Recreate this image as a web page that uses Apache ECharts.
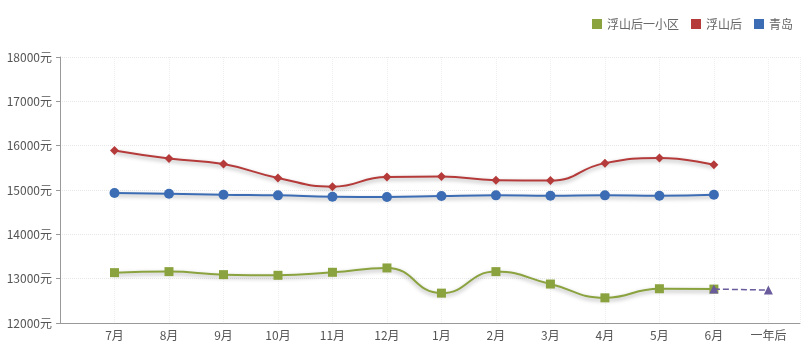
<!DOCTYPE html>
<html><head><meta charset="utf-8">
<script src="https://cdn.jsdelivr.net/npm/echarts@6/dist/echarts.min.js"></script>
<style>html,body{margin:0;padding:0;background:#fff}#c{width:810px;height:347px}</style>
</head><body><div id="c"></div>
<script>
var categories = ['', '7月','8月','9月','10月','11月','12月','1月','2月','3月','4月','5月','6月','一年后'];
var seriesNames = ['浮山后一小区', '浮山后', '青岛'];
var xiaoqu = [13136, 13159, 13091, 13076, 13144, 13242, 12674, 13159, 12879, 12568, 12773, 12765];
var fushanhou = [15893, 15711, 15584, 15273, 15076, 15295, 15302, 15220, 15212, 15606, 15720, 15568];
var qingdao = [14932, 14916, 14894, 14879, 14848, 14841, 14864, 14879, 14871, 14879, 14871, 14894];
var forecast = [12765, 12742];
var yTicks = [12000, 13000, 14000, 15000, 16000, 17000, 18000];

function pairs(arr, start) { return arr.map(function (v, i) { return [start + i, v]; }); }
var shadow = { shadowColor: 'rgba(0,0,0,0.35)', shadowBlur: 4, shadowOffsetY: 2 };
var font = '"Noto Sans CJK SC", sans-serif';

var chart = echarts.init(document.getElementById('c'));
chart.setOption({
  animation: false,
  textStyle: { fontFamily: font },
  legend: {
    data: seriesNames, right: 12, top: 13, itemWidth: 10, itemHeight: 10, itemGap: 12,
    icon: 'rect', textStyle: { color: '#666', fontSize: 12, fontFamily: font }
  },
  grid: { left: 60, right: 10, top: 57, bottom: 24 },
  xAxis: {
    type: 'value', min: 0, max: 13.58, interval: 1,
    axisLine: { lineStyle: { color: '#999' } },
    axisTick: { show: false },
    axisLabel: { color: '#555', fontSize: 12, margin: 6, showMaxLabel: false,
      formatter: function (v) { return categories[v] || ''; } },
    splitLine: { show: true, lineStyle: { color: '#eee', type: 'dotted' } }
  },
  yAxis: {
    type: 'value', min: yTicks[0], max: yTicks[yTicks.length - 1], interval: 1000,
    axisLine: { show: true, lineStyle: { color: '#999' } },
    axisTick: { show: true, length: 4, lineStyle: { color: '#999' } },
    axisLabel: { color: '#555', fontSize: 12, margin: 8,
      formatter: function (v) { return String(v) + '元'; } },
    splitLine: { lineStyle: { color: '#e6e6e6', type: 'dotted' } }
  },
  series: [
    { name: seriesNames[0], type: 'line', smooth: true, data: pairs(xiaoqu, 1),
      symbol: 'rect', symbolSize: 9, color: '#8ba33f',
      lineStyle: Object.assign({ width: 2, color: '#8ba33f' }, shadow), z: 3 },
    { name: seriesNames[1], type: 'line', smooth: true, data: pairs(fushanhou, 1),
      symbol: 'diamond', symbolSize: 9, color: '#b53a3a',
      lineStyle: Object.assign({ width: 2, color: '#b53a3a' }, shadow), z: 3 },
    { name: seriesNames[2], type: 'line', smooth: true, data: pairs(qingdao, 1),
      symbol: 'circle', symbolSize: 10, color: '#3c6db4',
      lineStyle: Object.assign({ width: 2, color: '#3c6db4' }, shadow), z: 3 },
    { name: '预测', type: 'line', data: pairs(forecast, 12),
      symbol: 'triangle', symbolSize: 9, color: '#6a5b9c',
      lineStyle: { width: 1.5, color: '#6a5b9c', type: 'dashed' }, z: 4 }
  ]
});
</script></body></html>
